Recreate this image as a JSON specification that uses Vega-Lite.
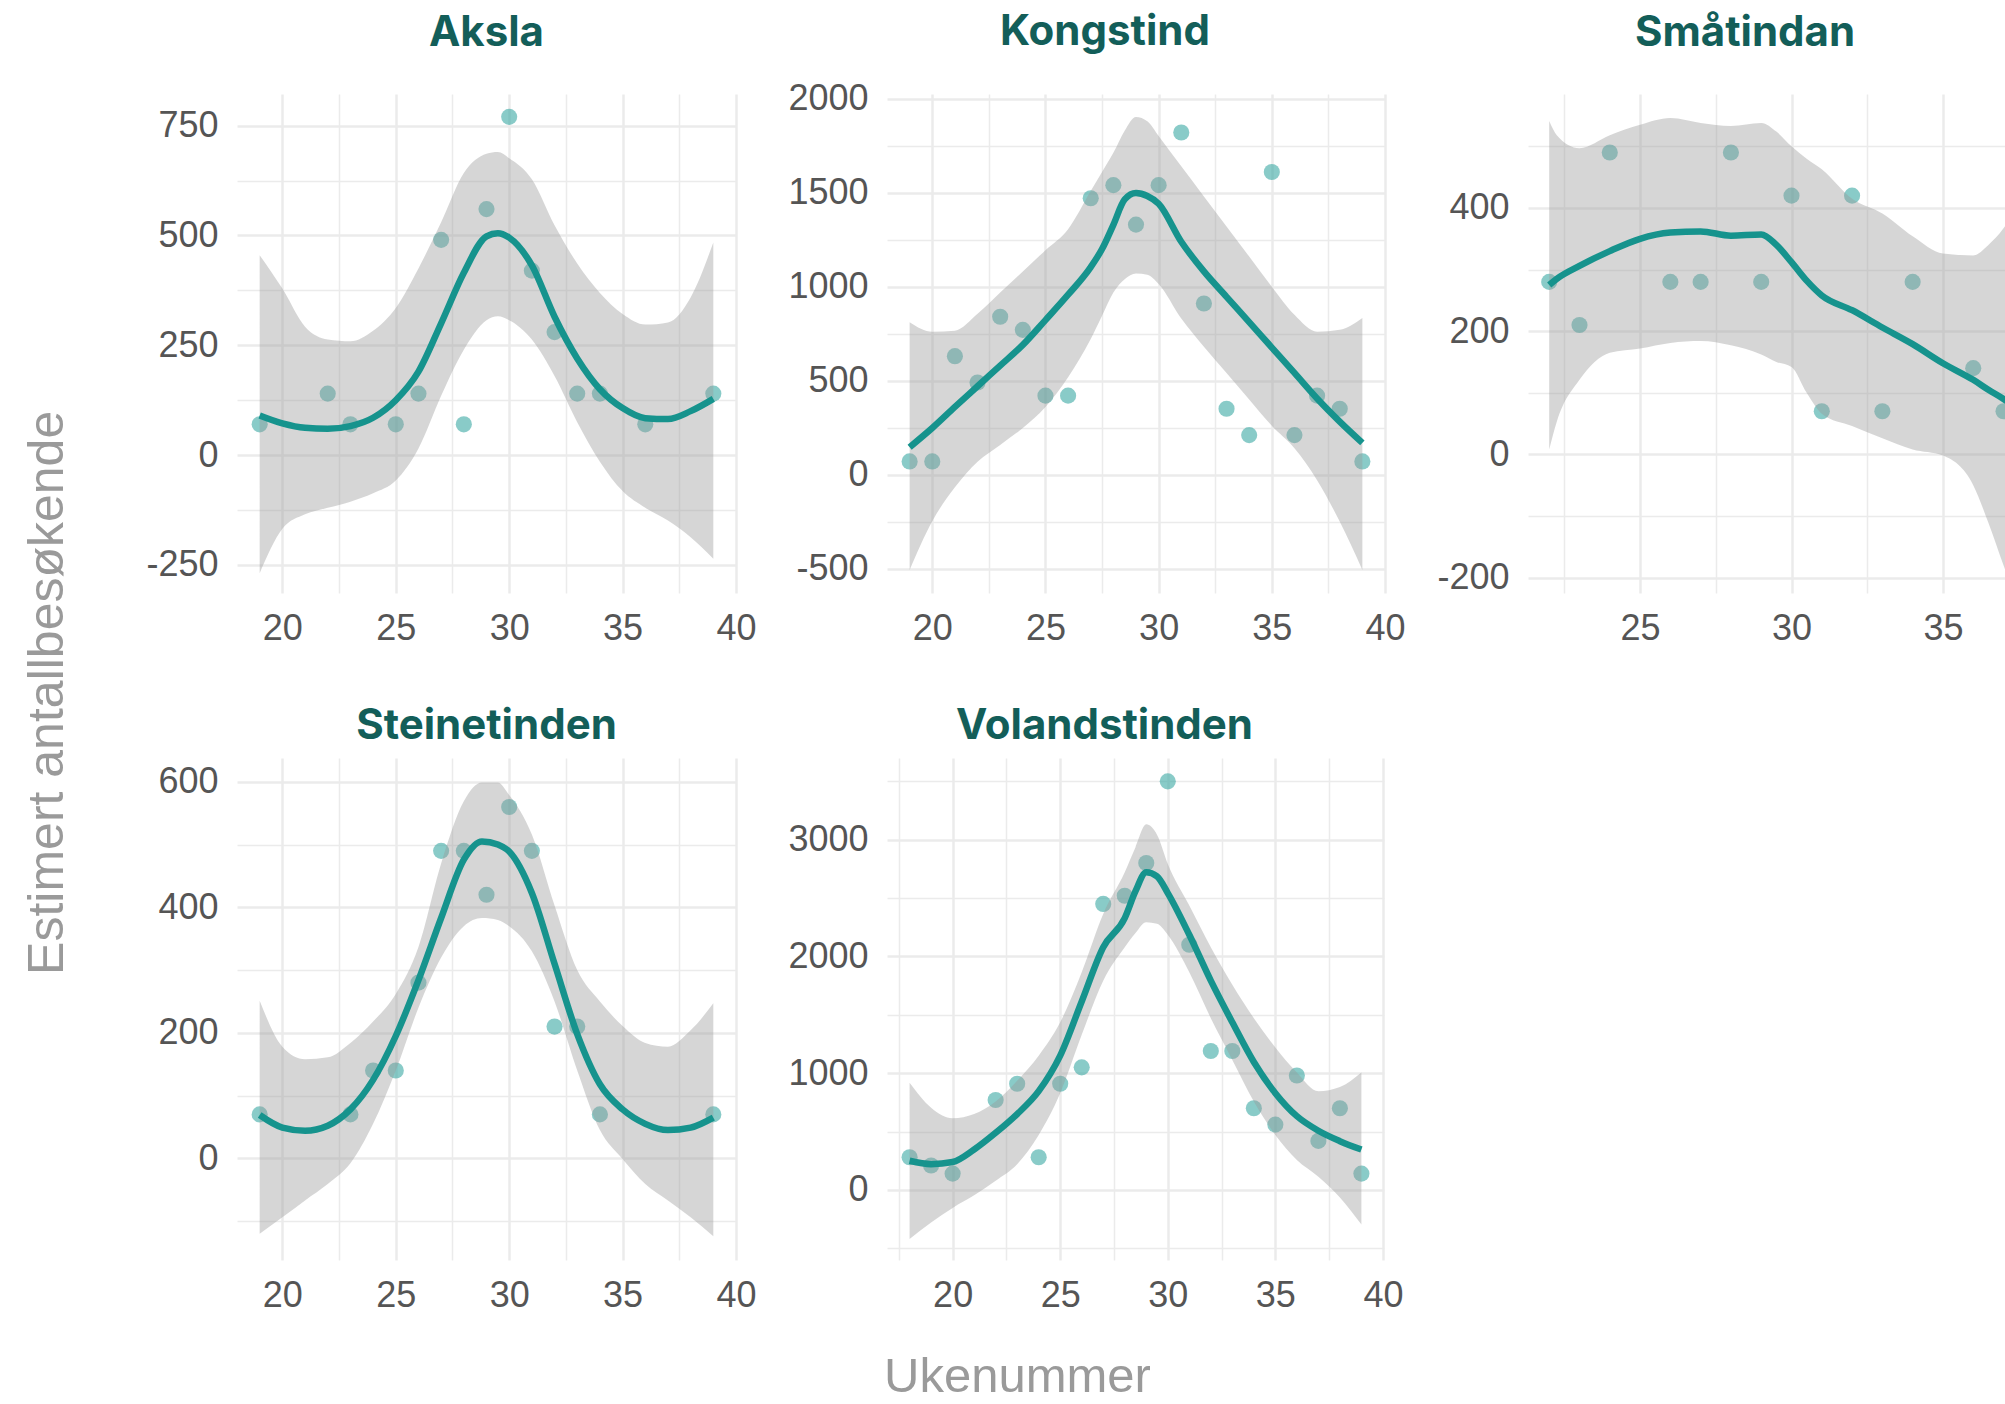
{
"$schema": "https://vega.github.io/schema/vega-lite/v6.json",
"padding": {"left": 22, "top": 10, "right": 0, "bottom": 0},
"background": "white",
"datasets": {
"pts": [
{"site":"Aksla","week":19,"visitors":70},{"site":"Aksla","week":22,"visitors":140},{"site":"Aksla","week":23,"visitors":70},{"site":"Aksla","week":25,"visitors":70},{"site":"Aksla","week":26,"visitors":140},{"site":"Aksla","week":27,"visitors":490},{"site":"Aksla","week":28,"visitors":70},{"site":"Aksla","week":29,"visitors":560},{"site":"Aksla","week":30,"visitors":770},{"site":"Aksla","week":31,"visitors":420},{"site":"Aksla","week":32,"visitors":280},{"site":"Aksla","week":33,"visitors":140},{"site":"Aksla","week":34,"visitors":140},{"site":"Aksla","week":36,"visitors":70},{"site":"Aksla","week":39,"visitors":140},
{"site":"Kongstind","week":19,"visitors":70},{"site":"Kongstind","week":20,"visitors":70},{"site":"Kongstind","week":21,"visitors":630},{"site":"Kongstind","week":22,"visitors":490},{"site":"Kongstind","week":23,"visitors":840},{"site":"Kongstind","week":24,"visitors":770},{"site":"Kongstind","week":25,"visitors":420},{"site":"Kongstind","week":26,"visitors":420},{"site":"Kongstind","week":27,"visitors":1470},{"site":"Kongstind","week":28,"visitors":1540},{"site":"Kongstind","week":29,"visitors":1330},{"site":"Kongstind","week":30,"visitors":1540},{"site":"Kongstind","week":31,"visitors":1820},{"site":"Kongstind","week":32,"visitors":910},{"site":"Kongstind","week":33,"visitors":350},{"site":"Kongstind","week":34,"visitors":210},{"site":"Kongstind","week":35,"visitors":1610},{"site":"Kongstind","week":36,"visitors":210},{"site":"Kongstind","week":37,"visitors":420},{"site":"Kongstind","week":38,"visitors":350},{"site":"Kongstind","week":39,"visitors":70},
{"site":"Småtindan","week":22,"visitors":280},{"site":"Småtindan","week":23,"visitors":210},{"site":"Småtindan","week":24,"visitors":490},{"site":"Småtindan","week":26,"visitors":280},{"site":"Småtindan","week":27,"visitors":280},{"site":"Småtindan","week":28,"visitors":490},{"site":"Småtindan","week":29,"visitors":280},{"site":"Småtindan","week":30,"visitors":420},{"site":"Småtindan","week":31,"visitors":70},{"site":"Småtindan","week":32,"visitors":420},{"site":"Småtindan","week":33,"visitors":70},{"site":"Småtindan","week":34,"visitors":280},{"site":"Småtindan","week":36,"visitors":140},{"site":"Småtindan","week":37,"visitors":70},
{"site":"Steinetinden","week":19,"visitors":70},{"site":"Steinetinden","week":23,"visitors":70},{"site":"Steinetinden","week":24,"visitors":140},{"site":"Steinetinden","week":25,"visitors":140},{"site":"Steinetinden","week":26,"visitors":280},{"site":"Steinetinden","week":27,"visitors":490},{"site":"Steinetinden","week":28,"visitors":490},{"site":"Steinetinden","week":29,"visitors":420},{"site":"Steinetinden","week":30,"visitors":560},{"site":"Steinetinden","week":31,"visitors":490},{"site":"Steinetinden","week":32,"visitors":210},{"site":"Steinetinden","week":33,"visitors":210},{"site":"Steinetinden","week":34,"visitors":70},{"site":"Steinetinden","week":39,"visitors":70},
{"site":"Volandstinden","week":18,"visitors":280},{"site":"Volandstinden","week":19,"visitors":210},{"site":"Volandstinden","week":20,"visitors":140},{"site":"Volandstinden","week":22,"visitors":770},{"site":"Volandstinden","week":23,"visitors":910},{"site":"Volandstinden","week":24,"visitors":280},{"site":"Volandstinden","week":25,"visitors":910},{"site":"Volandstinden","week":26,"visitors":1050},{"site":"Volandstinden","week":27,"visitors":2450},{"site":"Volandstinden","week":28,"visitors":2520},{"site":"Volandstinden","week":29,"visitors":2800},{"site":"Volandstinden","week":30,"visitors":3500},{"site":"Volandstinden","week":31,"visitors":2100},{"site":"Volandstinden","week":32,"visitors":1190},{"site":"Volandstinden","week":33,"visitors":1190},{"site":"Volandstinden","week":34,"visitors":700},{"site":"Volandstinden","week":35,"visitors":560},{"site":"Volandstinden","week":36,"visitors":980},{"site":"Volandstinden","week":37,"visitors":420},{"site":"Volandstinden","week":38,"visitors":700},{"site":"Volandstinden","week":39,"visitors":140}
],
"fit": [
{"site":"Aksla","week":19,"fit":90,"lower":-269,"upper":455},
{"site":"Aksla","week":20,"fit":72,"lower":-168,"upper":379},
{"site":"Aksla","week":21,"fit":62,"lower":-135,"upper":292},
{"site":"Aksla","week":22,"fit":60,"lower":-120,"upper":263},
{"site":"Aksla","week":23,"fit":66,"lower":-106,"upper":259},
{"site":"Aksla","week":24,"fit":85,"lower":-87,"upper":283},
{"site":"Aksla","week":25,"fit":125,"lower":-58,"upper":335},
{"site":"Aksla","week":26,"fit":190,"lower":15,"upper":425},
{"site":"Aksla","week":27,"fit":300,"lower":135,"upper":530},
{"site":"Aksla","week":28,"fit":415,"lower":240,"upper":642},
{"site":"Aksla","week":29,"fit":498,"lower":307,"upper":686},
{"site":"Aksla","week":29.5,"fit":505,"lower":316,"upper":690},
{"site":"Aksla","week":30,"fit":495,"lower":307,"upper":676},
{"site":"Aksla","week":31,"fit":432,"lower":263,"upper":628},
{"site":"Aksla","week":32,"fit":315,"lower":180,"upper":523},
{"site":"Aksla","week":33,"fit":220,"lower":75,"upper":436},
{"site":"Aksla","week":34,"fit":150,"lower":-15,"upper":369},
{"site":"Aksla","week":35,"fit":107,"lower":-82,"upper":321},
{"site":"Aksla","week":36,"fit":84,"lower":-120,"upper":297},
{"site":"Aksla","week":37,"fit":82,"lower":-149,"upper":302},
{"site":"Aksla","week":38,"fit":100,"lower":-187,"upper":359},
{"site":"Aksla","week":39,"fit":128,"lower":-236,"upper":484},
{"site":"Kongstind","week":19,"fit":146,"lower":-507,"upper":811},
{"site":"Kongstind","week":20,"fit":248,"lower":-248,"upper":760},
{"site":"Kongstind","week":21,"fit":360,"lower":-68,"upper":766},
{"site":"Kongstind","week":22,"fit":470,"lower":68,"upper":856},
{"site":"Kongstind","week":23,"fit":580,"lower":158,"upper":969},
{"site":"Kongstind","week":24,"fit":690,"lower":248,"upper":1081},
{"site":"Kongstind","week":25,"fit":822,"lower":360,"upper":1194},
{"site":"Kongstind","week":26,"fit":957,"lower":518,"upper":1306},
{"site":"Kongstind","week":27,"fit":1104,"lower":721,"upper":1509},
{"site":"Kongstind","week":27.5,"fit":1200,"lower":845,"upper":1610},
{"site":"Kongstind","week":28,"fit":1329,"lower":969,"upper":1712},
{"site":"Kongstind","week":28.5,"fit":1464,"lower":1040,"upper":1830},
{"site":"Kongstind","week":29,"fit":1498,"lower":1070,"upper":1903},
{"site":"Kongstind","week":29.5,"fit":1482,"lower":1063,"upper":1880},
{"site":"Kongstind","week":30,"fit":1441,"lower":1014,"upper":1802},
{"site":"Kongstind","week":31,"fit":1239,"lower":830,"upper":1640},
{"site":"Kongstind","week":32,"fit":1081,"lower":680,"upper":1480},
{"site":"Kongstind","week":33,"fit":946,"lower":540,"upper":1320},
{"site":"Kongstind","week":34,"fit":811,"lower":400,"upper":1160},
{"site":"Kongstind","week":35,"fit":676,"lower":260,"upper":1000},
{"site":"Kongstind","week":36,"fit":541,"lower":140,"upper":850},
{"site":"Kongstind","week":37,"fit":405,"lower":-30,"upper":760},
{"site":"Kongstind","week":38,"fit":282,"lower":-250,"upper":770},
{"site":"Kongstind","week":39,"fit":169,"lower":-507,"upper":833},
{"site":"Småtindan","week":22,"fit":275,"lower":8,"upper":541},
{"site":"Småtindan","week":22.25,"fit":285,"lower":53,"upper":518},
{"site":"Småtindan","week":23,"fit":306,"lower":121,"upper":497},
{"site":"Småtindan","week":24,"fit":330,"lower":165,"upper":518},
{"site":"Småtindan","week":25,"fit":350,"lower":172,"upper":535},
{"site":"Småtindan","week":26,"fit":360,"lower":181,"upper":546},
{"site":"Småtindan","week":27,"fit":362,"lower":184,"upper":538},
{"site":"Småtindan","week":28,"fit":355,"lower":177,"upper":533},
{"site":"Småtindan","week":29,"fit":357,"lower":162,"upper":538},
{"site":"Småtindan","week":29.5,"fit":340,"lower":150,"upper":524},
{"site":"Småtindan","week":30,"fit":312,"lower":142,"upper":500},
{"site":"Småtindan","week":30.5,"fit":282,"lower":100,"upper":480},
{"site":"Småtindan","week":31,"fit":258,"lower":66,"upper":463},
{"site":"Småtindan","week":32,"fit":234,"lower":46,"upper":415},
{"site":"Småtindan","week":33,"fit":206,"lower":26,"upper":391},
{"site":"Småtindan","week":34,"fit":179,"lower":8,"upper":354},
{"site":"Småtindan","week":35,"fit":148,"lower":-2,"upper":326},
{"site":"Småtindan","week":36,"fit":121,"lower":-50,"upper":323},
{"site":"Småtindan","week":36.5,"fit":105,"lower":-111,"upper":340},
{"site":"Småtindan","week":37,"fit":90,"lower":-180,"upper":367},
{"site":"Småtindan","week":37.3,"fit":80,"lower":-220,"upper":390},
{"site":"Steinetinden","week":19,"fit":69,"lower":-120,"upper":251},
{"site":"Steinetinden","week":20,"fit":49,"lower":-94,"upper":178},
{"site":"Steinetinden","week":21,"fit":44,"lower":-67,"upper":158},
{"site":"Steinetinden","week":22,"fit":52,"lower":-41,"upper":161},
{"site":"Steinetinden","week":23,"fit":78,"lower":-8,"upper":184},
{"site":"Steinetinden","week":24,"fit":125,"lower":55,"upper":218},
{"site":"Steinetinden","week":25,"fit":195,"lower":140,"upper":262},
{"site":"Steinetinden","week":26,"fit":284,"lower":240,"upper":337},
{"site":"Steinetinden","week":27,"fit":383,"lower":320,"upper":470},
{"site":"Steinetinden","week":28,"fit":476,"lower":370,"upper":569},
{"site":"Steinetinden","week":28.8,"fit":505,"lower":383,"upper":599},
{"site":"Steinetinden","week":29.5,"fit":500,"lower":380,"upper":599},
{"site":"Steinetinden","week":30,"fit":489,"lower":370,"upper":579},
{"site":"Steinetinden","week":31,"fit":423,"lower":330,"upper":516},
{"site":"Steinetinden","week":32,"fit":310,"lower":250,"upper":403},
{"site":"Steinetinden","week":33,"fit":198,"lower":140,"upper":300},
{"site":"Steinetinden","week":34,"fit":118,"lower":45,"upper":250},
{"site":"Steinetinden","week":35,"fit":78,"lower":-1,"upper":211},
{"site":"Steinetinden","week":36,"fit":55,"lower":-41,"upper":184},
{"site":"Steinetinden","week":37,"fit":45,"lower":-67,"upper":178},
{"site":"Steinetinden","week":38,"fit":49,"lower":-94,"upper":204},
{"site":"Steinetinden","week":39,"fit":65,"lower":-124,"upper":247},
{"site":"Volandstinden","week":18,"fit":250,"lower":-421,"upper":918},
{"site":"Volandstinden","week":19,"fit":221,"lower":-279,"upper":704},
{"site":"Volandstinden","week":20,"fit":239,"lower":-154,"upper":614},
{"site":"Volandstinden","week":21,"fit":346,"lower":-46,"upper":650},
{"site":"Volandstinden","week":22,"fit":489,"lower":79,"upper":757},
{"site":"Volandstinden","week":23,"fit":650,"lower":221,"upper":936},
{"site":"Volandstinden","week":24,"fit":846,"lower":471,"upper":1150},
{"site":"Volandstinden","week":25,"fit":1150,"lower":829,"upper":1436},
{"site":"Volandstinden","week":26,"fit":1614,"lower":1329,"upper":1864},
{"site":"Volandstinden","week":27,"fit":2079,"lower":1793,"upper":2364},
{"site":"Volandstinden","week":28,"fit":2329,"lower":2079,"upper":2721},
{"site":"Volandstinden","week":28.5,"fit":2560,"lower":2200,"upper":2936},
{"site":"Volandstinden","week":29,"fit":2721,"lower":2293,"upper":3132},
{"site":"Volandstinden","week":29.5,"fit":2686,"lower":2280,"upper":3043},
{"site":"Volandstinden","week":30,"fit":2543,"lower":2186,"upper":2793},
{"site":"Volandstinden","week":31,"fit":2186,"lower":1864,"upper":2436},
{"site":"Volandstinden","week":32,"fit":1793,"lower":1471,"upper":2079},
{"site":"Volandstinden","week":33,"fit":1436,"lower":1114,"upper":1757},
{"site":"Volandstinden","week":34,"fit":1096,"lower":757,"upper":1471},
{"site":"Volandstinden","week":35,"fit":829,"lower":471,"upper":1221},
{"site":"Volandstinden","week":36,"fit":632,"lower":257,"upper":1007},
{"site":"Volandstinden","week":37,"fit":507,"lower":114,"upper":846},
{"site":"Volandstinden","week":38,"fit":418,"lower":-64,"upper":882},
{"site":"Volandstinden","week":39,"fit":346,"lower":-296,"upper":1007}
]
},
"title": {"text": "Ukenummer", "orient": "bottom", "anchor": "middle", "font": "Liberation Sans", "fontSize": 49, "fontWeight": "normal", "color": "#9a9a9a", "offset": 40},
"vconcat": [
{
"title": {"text": "Estimert antallbesøkende", "orient": "left", "anchor": "middle", "font": "Liberation Sans", "fontSize": 50, "fontWeight": "normal", "color": "#9a9a9a", "offset": 73, "dx": -31},
"columns": 3,
"align": "each",
"spacing": {"row": 59, "column": 30},
"concat": [
{
"width": 499, "height": 499,
"title": {"text": "Aksla", "frame": "group", "baseline": "alphabetic", "offset": 6},
"layer": [
{"data": {"name": "pts"}, "transform": [{"filter": "datum.site === 'Aksla'"}],
 "mark": {"type": "circle", "size": 260, "color": "#3AA8A3", "opacity": 0.6},
 "encoding": {
  "x": {"field": "week", "type": "quantitative", "scale": {"domain": [18, 40], "nice": false, "zero": false},
        "axis": {"title": null, "values": [20,22.5,25,27.5,30,32.5,35,37.5,40], "labelExpr": "datum.value % 5 === 0 ? '' + datum.value : ''", "gridWidth": {"condition": {"test": "datum.value % 5 === 0", "value": 2.5}, "value": 1.5}}},
  "y": {"field": "visitors", "type": "quantitative", "scale": {"domain": [-314, 822], "nice": false, "zero": false},
        "axis": {"title": null, "values": [-250,-125,0,125,250,375,500,625,750], "labelExpr": "datum.value % 250 === 0 ? '' + datum.value : ''", "gridWidth": {"condition": {"test": "datum.value % 250 === 0", "value": 2.5}, "value": 1.5}}}}},
{"data": {"name": "fit"}, "transform": [{"filter": "datum.site === 'Aksla'"}],
 "mark": {"type": "area", "color": "#999999", "opacity": 0.4, "interpolate": "monotone"},
 "encoding": {"x": {"field": "week", "type": "quantitative"}, "y": {"field": "lower", "type": "quantitative"}, "y2": {"field": "upper"}}},
{"data": {"name": "fit"}, "transform": [{"filter": "datum.site === 'Aksla'"}],
 "mark": {"type": "line", "color": "#16938D", "strokeWidth": 6.5, "interpolate": "monotone"},
 "encoding": {"x": {"field": "week", "type": "quantitative"}, "y": {"field": "fit", "type": "quantitative"}}}
]
},
{
"width": 498, "height": 499,
"title": {"text": "Kongstind", "frame": "group", "baseline": "alphabetic", "offset": -6, "dx": -31},
"layer": [
{"data": {"name": "pts"}, "transform": [{"filter": "datum.site === 'Kongstind'"}],
 "mark": {"type": "circle", "size": 260, "color": "#3AA8A3", "opacity": 0.6},
 "encoding": {
  "x": {"field": "week", "type": "quantitative", "scale": {"domain": [18, 40], "nice": false, "zero": false},
        "axis": {"title": null, "values": [20,22.5,25,27.5,30,32.5,35,37.5,40], "labelExpr": "datum.value % 5 === 0 ? '' + datum.value : ''", "gridWidth": {"condition": {"test": "datum.value % 5 === 0", "value": 2.5}, "value": 1.5}}},
  "y": {"field": "visitors", "type": "quantitative", "scale": {"domain": [-630, 2025], "nice": false, "zero": false},
        "axis": {"title": null, "values": [-500,-250,0,250,500,750,1000,1250,1500,1750,2000], "labelExpr": "datum.value % 500 === 0 ? '' + datum.value : ''", "gridWidth": {"condition": {"test": "datum.value % 500 === 0", "value": 2.5}, "value": 1.5}}}}},
{"data": {"name": "fit"}, "transform": [{"filter": "datum.site === 'Kongstind'"}],
 "mark": {"type": "area", "color": "#999999", "opacity": 0.4, "interpolate": "monotone"},
 "encoding": {"x": {"field": "week", "type": "quantitative"}, "y": {"field": "lower", "type": "quantitative"}, "y2": {"field": "upper"}}},
{"data": {"name": "fit"}, "transform": [{"filter": "datum.site === 'Kongstind'"}],
 "mark": {"type": "line", "color": "#16938D", "strokeWidth": 6.5, "interpolate": "monotone"},
 "encoding": {"x": {"field": "week", "type": "quantitative"}, "y": {"field": "fit", "type": "quantitative"}}}
]
},
{
"width": 484, "height": 499,
"title": {"text": "Småtindan", "frame": "group", "baseline": "alphabetic", "offset": 6, "dx": -25},
"layer": [
{"data": {"name": "pts"}, "transform": [{"filter": "datum.site === 'Småtindan'"}],
 "mark": {"type": "circle", "size": 260, "color": "#3AA8A3", "opacity": 0.6, "clip": true},
 "encoding": {
  "x": {"field": "week", "type": "quantitative", "scale": {"domain": [21.3, 37.28], "nice": false, "zero": false},
        "axis": {"title": null, "values": [22.5,25,27.5,30,32.5,35], "labelExpr": "datum.value % 5 === 0 ? '' + datum.value : ''", "gridWidth": {"condition": {"test": "datum.value % 5 === 0", "value": 2.5}, "value": 1.5}}},
  "y": {"field": "visitors", "type": "quantitative", "scale": {"domain": [-225, 585], "nice": false, "zero": false},
        "axis": {"title": null, "values": [-200,-100,0,100,200,300,400,500], "labelExpr": "datum.value % 200 === 0 ? '' + datum.value : ''", "gridWidth": {"condition": {"test": "datum.value % 200 === 0", "value": 2.5}, "value": 1.5}}}}},
{"data": {"name": "fit"}, "transform": [{"filter": "datum.site === 'Småtindan'"}],
 "mark": {"type": "area", "color": "#999999", "opacity": 0.4, "interpolate": "monotone", "clip": true},
 "encoding": {"x": {"field": "week", "type": "quantitative"}, "y": {"field": "lower", "type": "quantitative"}, "y2": {"field": "upper"}}},
{"data": {"name": "fit"}, "transform": [{"filter": "datum.site === 'Småtindan'"}],
 "mark": {"type": "line", "color": "#16938D", "strokeWidth": 6.5, "interpolate": "monotone", "clip": true},
 "encoding": {"x": {"field": "week", "type": "quantitative"}, "y": {"field": "fit", "type": "quantitative"}}}
]
},
{
"width": 499, "height": 502,
"title": {"text": "Steinetinden", "frame": "group", "baseline": "alphabetic", "offset": -23},
"layer": [
{"data": {"name": "pts"}, "transform": [{"filter": "datum.site === 'Steinetinden'"}],
 "mark": {"type": "circle", "size": 260, "color": "#3AA8A3", "opacity": 0.6},
 "encoding": {
  "x": {"field": "week", "type": "quantitative", "scale": {"domain": [18, 40], "nice": false, "zero": false},
        "axis": {"title": null, "values": [20,22.5,25,27.5,30,32.5,35,37.5,40], "labelExpr": "datum.value % 5 === 0 ? '' + datum.value : ''", "gridWidth": {"condition": {"test": "datum.value % 5 === 0", "value": 2.5}, "value": 1.5}}},
  "y": {"field": "visitors", "type": "quantitative", "scale": {"domain": [-162, 638], "nice": false, "zero": false},
        "axis": {"title": null, "values": [-100,0,100,200,300,400,500,600], "labelExpr": "datum.value % 200 === 0 ? '' + datum.value : ''", "gridWidth": {"condition": {"test": "datum.value % 200 === 0", "value": 2.5}, "value": 1.5}}}}},
{"data": {"name": "fit"}, "transform": [{"filter": "datum.site === 'Steinetinden'"}],
 "mark": {"type": "area", "color": "#999999", "opacity": 0.4, "interpolate": "monotone"},
 "encoding": {"x": {"field": "week", "type": "quantitative"}, "y": {"field": "lower", "type": "quantitative"}, "y2": {"field": "upper"}}},
{"data": {"name": "fit"}, "transform": [{"filter": "datum.site === 'Steinetinden'"}],
 "mark": {"type": "line", "color": "#16938D", "strokeWidth": 6.5, "interpolate": "monotone"},
 "encoding": {"x": {"field": "week", "type": "quantitative"}, "y": {"field": "fit", "type": "quantitative"}}}
]
},
{
"width": 497, "height": 502,
"title": {"text": "Volandstinden", "frame": "group", "baseline": "alphabetic", "offset": -23, "dx": -31},
"layer": [
{"data": {"name": "pts"}, "transform": [{"filter": "datum.site === 'Volandstinden'"}],
 "mark": {"type": "circle", "size": 260, "color": "#3AA8A3", "opacity": 0.6},
 "encoding": {
  "x": {"field": "week", "type": "quantitative", "scale": {"domain": [16.95, 40.05], "nice": false, "zero": false},
        "axis": {"title": null, "values": [17.5,20,22.5,25,27.5,30,32.5,35,37.5,40], "labelExpr": "datum.value % 5 === 0 ? '' + datum.value : ''", "gridWidth": {"condition": {"test": "datum.value % 5 === 0", "value": 2.5}, "value": 1.5}}},
  "y": {"field": "visitors", "type": "quantitative", "scale": {"domain": [-600, 3700], "nice": false, "zero": false},
        "axis": {"title": null, "values": [-500,0,500,1000,1500,2000,2500,3000,3500], "labelExpr": "datum.value % 1000 === 0 ? '' + datum.value : ''", "gridWidth": {"condition": {"test": "datum.value % 1000 === 0", "value": 2.5}, "value": 1.5}}}}},
{"data": {"name": "fit"}, "transform": [{"filter": "datum.site === 'Volandstinden'"}],
 "mark": {"type": "area", "color": "#999999", "opacity": 0.4, "interpolate": "monotone"},
 "encoding": {"x": {"field": "week", "type": "quantitative"}, "y": {"field": "lower", "type": "quantitative"}, "y2": {"field": "upper"}}},
{"data": {"name": "fit"}, "transform": [{"filter": "datum.site === 'Volandstinden'"}],
 "mark": {"type": "line", "color": "#16938D", "strokeWidth": 6.5, "interpolate": "monotone"},
 "encoding": {"x": {"field": "week", "type": "quantitative"}, "y": {"field": "fit", "type": "quantitative"}}}
]
}
]
}
],
"config": {
 "view": {"stroke": null},
 "axis": {"domain": false, "ticks": false, "labelFont": "Liberation Sans", "labelFontSize": 36, "labelColor": "#555555", "labelFlush": false, "labelOverlap": false, "gridColor": "#EBEBEB"},
 "axisY": {"labelPadding": 19},
 "axisX": {"labelPadding": 18},
 "title": {"font": "Inter", "fontSize": 42, "fontWeight": "bold", "color": "#135E59"}
}
}
